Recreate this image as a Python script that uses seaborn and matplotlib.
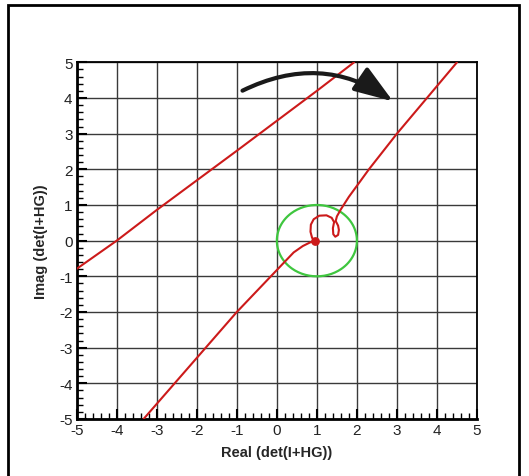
"""Nyquist-style plot of det(I+HG) with unit circle around (1, 0)."""

import matplotlib

matplotlib.use("Agg")
import matplotlib.pyplot as plt
import numpy as np
import pandas as pd
import seaborn as sns
from matplotlib.patches import FancyArrowPatch, Rectangle
from matplotlib.ticker import MultipleLocator

# main branch: from bottom-left, through the loop near (1, 0), out to top-right
branch_re = [-3.33, -1.0, -0.15, 0.42, 0.65, 0.83, 0.95,
             0.88, 0.84, 0.85, 0.92, 1.06, 1.24, 1.37, 1.43, 1.40, 1.41,
             1.46, 1.53, 1.55, 1.53, 1.47, 1.50, 1.60, 1.80, 2.08, 2.30,
             3.00, 3.75, 4.50]
branch_im = [-5.0, -2.0, -1.0, -0.33, -0.15, -0.05, -0.01,
             0.08, 0.25, 0.45, 0.60, 0.70, 0.71, 0.64, 0.52, 0.35, 0.18,
             0.11, 0.16, 0.30, 0.42, 0.55, 0.68, 0.88, 1.23, 1.66, 2.00,
             3.00, 4.00, 5.00]

# second branch, upper-left
upper_re = [-5.0, -4.0, -3.0, -1.0, 0.0, 1.0, 1.93]
upper_im = [-0.79, 0.0, 0.86, 2.52, 3.36, 4.20, 5.00]

# critical point and unit circle around it
crit_re, crit_im = 0.95, 0.0
circle_center = (1.0, 0.0)
circle_radius = 1.0

ticks = [-5, -4, -3, -2, -1, 0, 1, 2, 3, 4, 5]

sns.set_theme(style="ticks")
plt.rcParams["font.family"] = ["Liberation Sans", "DejaVu Sans"]
plt.rcParams["axes.unicode_minus"] = False

fig = plt.figure(figsize=(5.29, 4.77), dpi=100)
ax = fig.add_axes([0.145, 0.1195, 0.7567, 0.7478])

red = "#cc1a1a"
green = "#3fc63f"

branch = pd.DataFrame({"re": branch_re, "im": branch_im})
upper = pd.DataFrame({"re": upper_re, "im": upper_im})
sns.lineplot(data=branch, x="re", y="im", sort=False, estimator=None,
             color=red, lw=1.5, ax=ax, zorder=4)
sns.lineplot(data=upper, x="re", y="im", sort=False, estimator=None,
             color=red, lw=1.5, ax=ax, zorder=4)

theta = np.linspace(0, 2 * np.pi, 200)
circle = pd.DataFrame({
    "re": circle_center[0] + circle_radius * np.cos(theta),
    "im": circle_center[1] + circle_radius * np.sin(theta),
})
sns.lineplot(data=circle, x="re", y="im", sort=False, estimator=None,
             color=green, lw=1.6, ax=ax, zorder=3)
ax.scatter([crit_re], [crit_im], s=40, color=red, zorder=5, linewidths=0)

# curved arrow
arrow = FancyArrowPatch(
    (-0.92, 4.17), (2.96, 3.86),
    connectionstyle="arc3,rad=-0.3",
    arrowstyle="-|>,head_length=1.7,head_width=0.6",
    color="#1a1a1a", lw=3, mutation_scale=14, zorder=6,
)
ax.add_patch(arrow)

ax.set_xlim(-5, 5)
ax.set_ylim(-5, 5)
ax.set_xticks(ticks)
ax.set_yticks(ticks)
ax.xaxis.set_minor_locator(MultipleLocator(0.2))
ax.yaxis.set_minor_locator(MultipleLocator(0.2))
ax.tick_params(which="major", direction="in", length=7, width=1.5,
               color="black", labelsize=11, pad=3, labelcolor="#222222")
ax.tick_params(which="minor", direction="in", length=4, width=1.0,
               color="black")
ax.grid(True, which="major", color="#3a3a3a", lw=1.0)
for side in ["top", "right", "left", "bottom"]:
    ax.spines[side].set_color("black")
ax.spines["left"].set_linewidth(2.0)
ax.spines["bottom"].set_linewidth(2.0)
ax.spines["top"].set_linewidth(1.3)
ax.spines["right"].set_linewidth(1.3)

ax.set_xlabel("Real (det(I+HG))", fontsize=10.5, fontweight="bold",
              labelpad=6)
ax.set_ylabel("Imag (det(I+HG))", fontsize=10.5, fontweight="bold",
              labelpad=8)

# frame round the whole picture
fig.patches.append(Rectangle((8 / 529, -0.05), 511 / 529, 1.05 - 6 / 477,
                             transform=fig.transFigure, fill=False,
                             edgecolor="black", lw=2.0))

fig.savefig("out.png", dpi=100)
plt.close(fig)
